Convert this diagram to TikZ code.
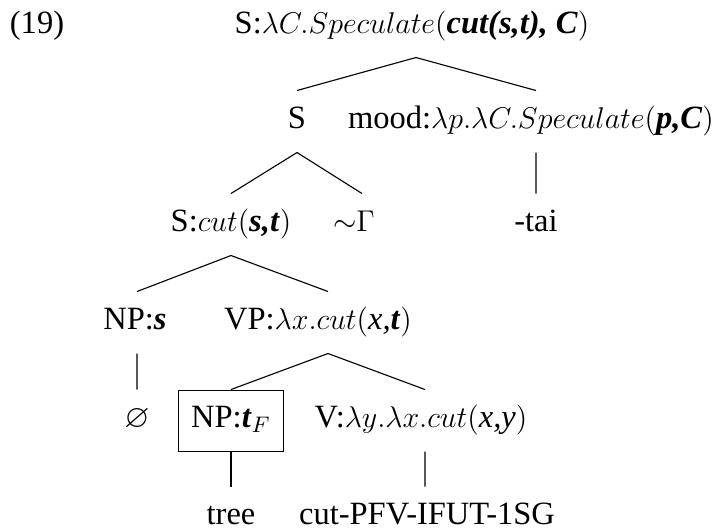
\documentclass[tikz,border=0pt]{standalone}
\usepackage{amsmath,amssymb}
\usepackage{fontspec}
\setmainfont{Liberation Serif}
\usepackage{tikz}
\usetikzlibrary{positioning}

\newcommand{\bfit}[1]{\textbf{\textit{#1}}}

\begin{document}
\begin{tikzpicture}[
  x=0.4pt, y=-0.4pt,
  every node/.style={font=\fontsize{13}{15}\selectfont},
  % all labels share one height/depth so branches start and stop evenly
  lbl/.style={
    anchor=base,
    inner sep=0pt,
    text height=14.8pt,
    text depth=9.6pt
  },
  focusbox/.style={
    lbl,
    draw,
    inner xsep=5pt
  },
  branch/.style={line width=0.45pt}
]

\useasboundingbox (0,0) rectangle (726,529);

% ------------------------------------------------
% Labels, row by row
% ------------------------------------------------
\node[lbl] (exnum) at (37,33) {(19)};
\node[lbl] (root)  at (412,33) {S:$\lambda C.Speculate($\bfit{cut(s,t), C}$)$};

\node[lbl] (sent) at (297,128) {S};
\node[lbl] (mood) at (531,128) {mood:$\lambda p.\lambda C.Speculate($\bfit{p,C}$)$};

\node[lbl] (scut) at (231,231) {S:$cut($\bfit{s,t}$)$};
\node[lbl] (alt)  at (354,231) {${\sim}\Gamma$};
\node[lbl] (tai)  at (536,231) {-tai};

\node[lbl] (nps) at (135,329) {NP:\bfit{s}};
\node[lbl] (vp)  at (318,329) {VP:$\lambda x.cut($\textit{x,}\bfit{t}$)$};

\node[lbl]      (null) at (137,427) {$\varnothing$};
\node[focusbox] (npt)  at (231,427) {NP:\bfit{t}$_F$};
\node[lbl]      (verb) at (421,427) {V:$\lambda y.\lambda x.cut($\textit{x,y}$)$};

\node[lbl] (tree) at (231,524) {tree};
\node[lbl] (gloss) at (427,524) {cut-PFV-IFUT-1SG};

% ------------------------------------------------
% Branches
% ------------------------------------------------
\draw[branch] ([xshift=1.6pt]root.south) -- (sent.north);
\draw[branch] ([xshift=1.6pt]root.south) -- ([xshift=2pt]mood.north);

\draw[branch] (sent.south) -- (scut.north);
\draw[branch] (sent.south) -- ([xshift=3.2pt]alt.north);
\draw[branch] ([xshift=2pt]mood.south) -- (tai.north);

\draw[branch] (scut.south) -- ([xshift=0.8pt]nps.north);
\draw[branch] (scut.south) -- ([xshift=4pt]vp.north);

\draw[branch] ([xshift=0.8pt]nps.south) -- (null.north);
\draw[branch] ([xshift=4pt]vp.south) -- (npt.north);
\draw[branch] ([xshift=4pt]vp.south) -- ([xshift=1.6pt]verb.north);

\draw[branch] (npt.south) -- (tree.north);
\draw[branch] ([xshift=1.6pt]verb.south) -- ([xshift=-0.8pt]gloss.north);

\end{tikzpicture}
\end{document}
